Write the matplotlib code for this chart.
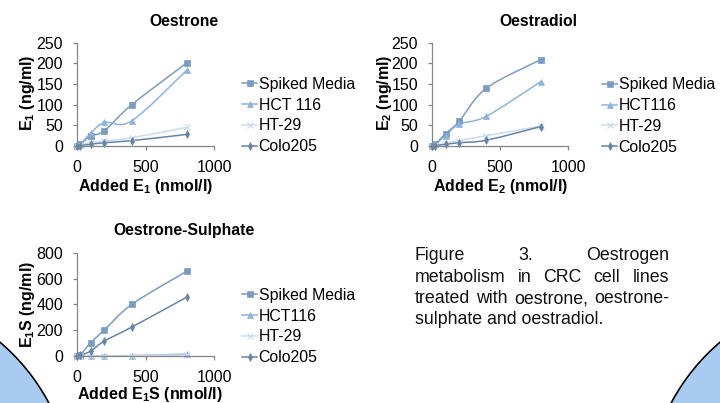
import numpy as np
import matplotlib
matplotlib.use('Agg')
import matplotlib.pyplot as plt
from matplotlib.path import Path
from matplotlib.patches import PathPatch, Circle
from matplotlib.lines import Line2D

plt.rcParams['font.family'] = ['Liberation Sans', 'DejaVu Sans']
plt.rcParams['mathtext.fontset'] = 'custom'
plt.rcParams['mathtext.rm'] = 'Liberation Sans:bold'
plt.rcParams['mathtext.bf'] = 'Liberation Sans:bold'
plt.rcParams['mathtext.default'] = 'bf'

# added concentration (nmol/l)
x_added = [0, 25, 100, 200, 400, 800]

# oestrone
e1_spiked = [0, 5, 24, 37, 100, 201]
e1_hct116 = [0, 5, 31, 57, 61, 183]
e1_ht29 = [0, 2, 8, 12, 20, 45]
e1_colo205 = [0, 1, 4, 8, 13, 28]

# oestradiol
e2_spiked = [0, 5, 30, 60, 140, 209]
e2_hct116 = [0, 5, 25, 53, 72, 156]
e2_ht29 = [0, 2, 6, 13, 25, 48]
e2_colo205 = [0, 1, 4, 8, 14, 47]

# oestrone-sulphate
e1s_spiked = [0, 10, 103, 201, 400, 656]
e1s_hct116 = [0, 2, 2, 2, 3, 15]
e1s_ht29 = [0, 1, 1, 1, 2, 8]
e1s_colo205 = [0, 5, 39, 116, 224, 455]

series_colors = ['#7b9cc1', '#8fb3db', '#cbdbed', '#6784a6']
series_markers = [('s', 4.3, 0.5), ('^', 4.6, 0.5), ('x', 3.8, 0.9), ('d', 3.8, 0.5)]

caption_lines = [["Figure", "3.", "Oestrogen"],
                 ["metabolism", "in", "CRC", "cell", "lines"],
                 ["treated", "with", "oestrone,", "oestrone-"],
                 ["sulphate and oestradiol."]]

W, H = 720, 403
fig = plt.figure(figsize=(W / 100, H / 100), dpi=100)

# background with the two blue circles, in pixel units
bg = fig.add_axes([0, 0, 1, 1], zorder=-1)
bg.set_xlim(0, W)
bg.set_ylim(H, 0)
bg.axis('off')
for cx in (-134, W + 134):
    bg.add_patch(Circle((cx, 500), 207, facecolor='#a9cbf1', edgecolor='black', lw=1.2))


def smooth_path(x, y):
    # catmull-rom style bezier, like excel smoothed lines
    pts = np.column_stack([x, y]).astype(float)
    n = len(pts)
    verts = [pts[0]]
    codes = [Path.MOVETO]
    for i in range(n - 1):
        p0 = pts[max(i - 1, 0)]
        p1 = pts[i]
        p2 = pts[i + 1]
        p3 = pts[min(i + 2, n - 1)]
        verts += [p1 + (p2 - p0) / 6, p2 - (p3 - p1) / 6, p2]
        codes += [Path.CURVE4] * 3
    return Path(verts, codes)


def px_axes(left, right, top, bottom):
    return fig.add_axes([left / W, 1 - bottom / H, (right - left) / W, (bottom - top) / H])


def draw_chart(box, series, labels, ymax, ystep, title, title_xy, ylabel, ylabel_xy,
               xlabel, xlabel_xy, legend_xy):
    ax = px_axes(*box)
    ax.patch.set_alpha(0)
    for vals, c, (m, ms, mew) in zip(series, series_colors, series_markers):
        ax.add_patch(PathPatch(smooth_path(x_added, vals), fill=False, edgecolor=c,
                               lw=1.1, clip_on=False))
        ax.plot(x_added, vals, ls='none', marker=m, ms=ms, mew=mew, color=c,
                mec=c, clip_on=False)
    ax.set_xlim(0, 1000)
    ax.set_ylim(0, ymax)
    ax.set_xticks([0, 500, 1000])
    ax.set_yticks(np.arange(0, ymax + 1, ystep))
    for s in ['top', 'right']:
        ax.spines[s].set_visible(False)
    for s in ['left', 'bottom']:
        ax.spines[s].set_color('#868686')
        ax.spines[s].set_linewidth(0.9)
    ax.tick_params(direction='out', length=3, width=0.9, color='#868686', pad=7,
                   labelsize=11.5)

    bg.text(title_xy[0], title_xy[1], title, ha='center', va='center',
            fontsize=11.3, fontweight='bold')
    bg.text(ylabel_xy[0], ylabel_xy[1], ylabel, ha='center', va='center',
            rotation=90, fontsize=11.5, fontweight='bold')
    bg.text(xlabel_xy[0], xlabel_xy[1], xlabel, ha='center', va='center',
            fontsize=11.5, fontweight='bold')

    handles = [Line2D([], [], color=c, lw=1.1, marker=m, ms=ms, mew=mew)
               for c, (m, ms, mew) in zip(series_colors, series_markers)]
    fig.legend(handles, labels, loc='center left',
               bbox_to_anchor=(legend_xy[0] / W, 1 - legend_xy[1] / H),
               bbox_transform=fig.transFigure, frameon=False, borderpad=0,
               borderaxespad=0, handlelength=0.95, handletextpad=0.1,
               labelspacing=0.37, fontsize=11.4, numpoints=1)
    return ax


draw_chart((77, 214, 42.7, 146), [e1_spiked, e1_hct116, e1_ht29, e1_colo205],
           ['Spiked Media', 'HCT 116', 'HT-29', 'Colo205'], 250, 50,
           'Oestrone', (184, 21), 'E$_1$ (ng/ml)', (27.5, 93),
           'Added E$_1$ (nmol/l)', (146, 186), (242, 115.5))

draw_chart((432, 568, 42.7, 146), [e2_spiked, e2_hct116, e2_ht29, e2_colo205],
           ['Spiked Media', 'HCT116', 'HT-29', 'Colo205'], 250, 50,
           'Oestradiol', (538, 21), 'E$_2$ (ng/ml)', (384, 93),
           'Added E$_2$ (nmol/l)', (501, 187), (602, 116))

draw_chart((77, 214, 252.7, 356), [e1s_spiked, e1s_hct116, e1s_ht29, e1s_colo205],
           ['Spiked Media', 'HCT116', 'HT-29', 'Colo205'], 800, 200,
           'Oestrone-Sulphate', (184, 231), 'E$_1$S (ng/ml)', (27.5, 304),
           'Added E$_1$S (nmol/l)', (150, 394.5), (242, 326.5))

# justified caption
renderer = fig.canvas.get_renderer()
x0, x1 = 415, 669
base = 260
for i, words in enumerate(caption_lines):
    y = base + i * 21.5
    texts = [bg.text(x0, y, w, fontsize=12.8, va='baseline', color='#111111') for w in words]
    if len(words) > 1:
        widths = [t.get_window_extent(renderer).width for t in texts]
        gap = (x1 - x0 - sum(widths)) / (len(words) - 1)
        x = x0
        for t, w in zip(texts, widths):
            t.set_x(x)
            x += w + gap

fig.savefig('out.png', dpi=100)
